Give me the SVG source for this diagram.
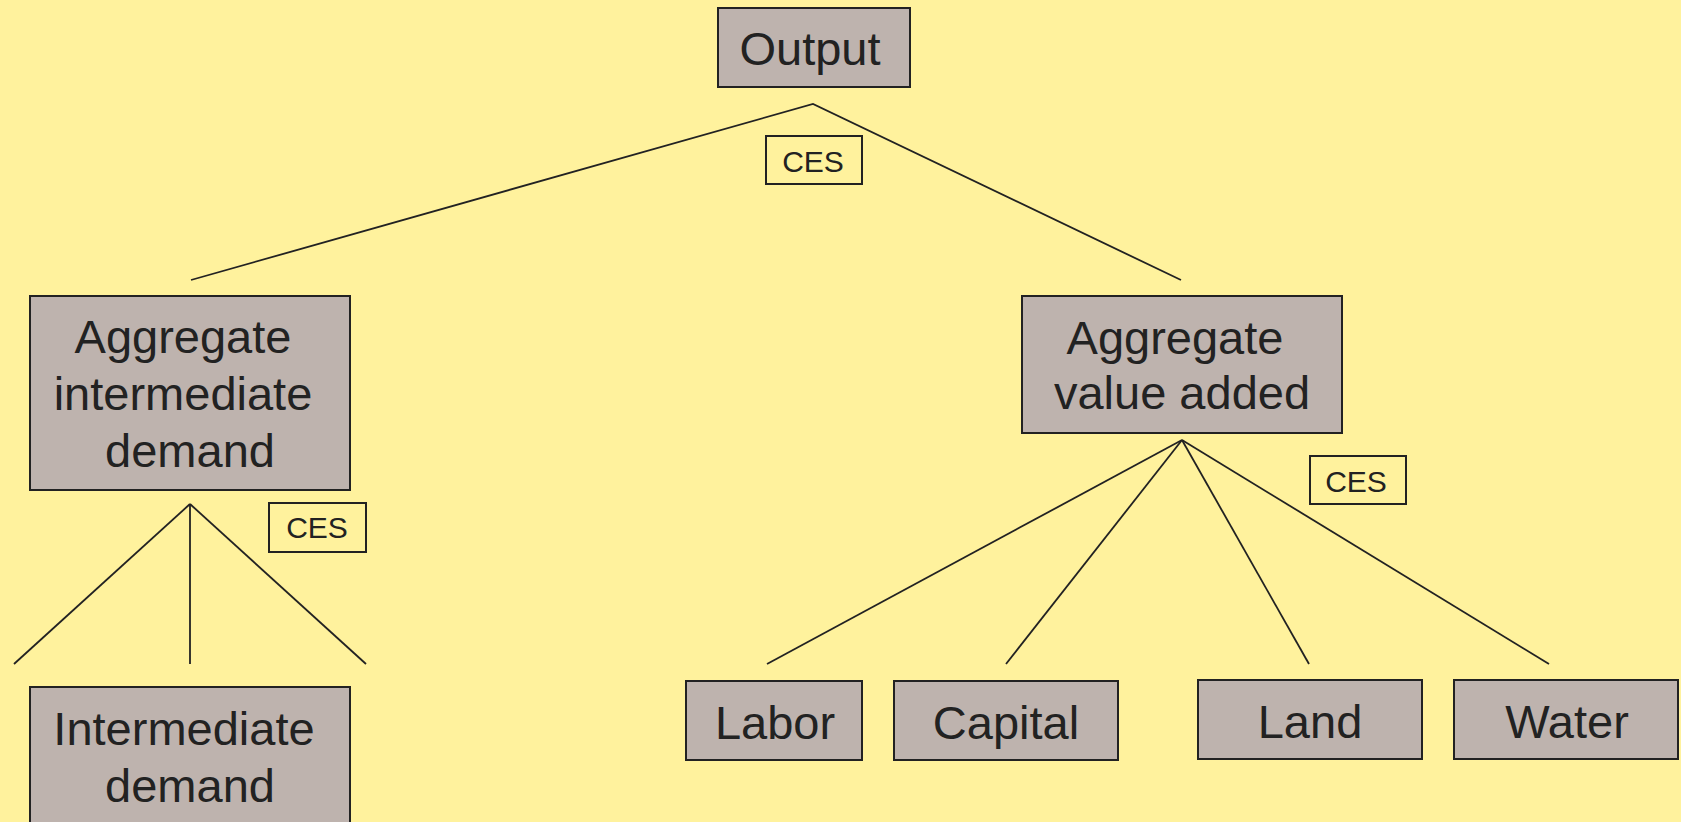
<svg xmlns="http://www.w3.org/2000/svg" width="1681" height="822" viewBox="0 0 1681 822">
<style>
.bg{fill:#FFF29D}
.box{fill:#BEB3AE;stroke:#222;stroke-width:2}
.ces{fill:none;stroke:#222;stroke-width:2}
.t{font-family:"Liberation Sans",Arial,sans-serif;font-size:47px;fill:#222;text-anchor:middle}
.c{font-family:"Liberation Sans",Arial,sans-serif;font-size:30px;fill:#222;text-anchor:middle}
.ln{stroke:#222;stroke-width:1.8;fill:none}
</style>
<rect class="bg" x="0" y="0" width="1681" height="822"/>
<g id="connectors">
<polyline class="ln" points="191,280 813,104 1181,280"/>
<line class="ln" x1="190" y1="504" x2="14" y2="664"/>
<line class="ln" x1="190" y1="504" x2="190" y2="664"/>
<line class="ln" x1="190" y1="504" x2="366" y2="664"/>
<line class="ln" x1="1182" y1="440" x2="767" y2="664"/>
<line class="ln" x1="1182" y1="440" x2="1006" y2="664"/>
<line class="ln" x1="1182" y1="440" x2="1309" y2="664"/>
<line class="ln" x1="1182" y1="440" x2="1549" y2="664"/>
</g>
<g id="output">
<rect class="box" x="718" y="8" width="192" height="79"/>
<text class="t" x="810" y="65">Output</text>
</g>
<g id="ces-top">
<rect class="ces" x="766" y="136" width="96" height="48"/>
<text class="c" x="813" y="172">CES</text>
</g>
<g id="agg-intermediate">
<rect class="box" x="30" y="296" width="320" height="194"/>
<text class="t" x="183" y="353">Aggregate</text>
<text class="t" x="183" y="410">intermediate</text>
<text class="t" x="190" y="467">demand</text>
</g>
<g id="ces-left">
<rect class="ces" x="269" y="503" width="97" height="49"/>
<text class="c" x="317" y="538">CES</text>
</g>
<g id="intermediate">
<rect class="box" x="30" y="687" width="320" height="150"/>
<text class="t" x="184" y="745">Intermediate</text>
<text class="t" x="190" y="802">demand</text>
</g>
<g id="agg-value-added">
<rect class="box" x="1022" y="296" width="320" height="137"/>
<text class="t" x="1175" y="354">Aggregate</text>
<text class="t" x="1182" y="409">value added</text>
</g>
<g id="ces-right">
<rect class="ces" x="1310" y="456" width="96" height="48"/>
<text class="c" x="1356" y="492">CES</text>
</g>
<g id="labor">
<rect class="box" x="686" y="681" width="176" height="79"/>
<text class="t" x="775" y="739">Labor</text>
</g>
<g id="capital">
<rect class="box" x="894" y="681" width="224" height="79"/>
<text class="t" x="1006" y="739">Capital</text>
</g>
<g id="land">
<rect class="box" x="1198" y="680" width="224" height="79"/>
<text class="t" x="1310" y="738">Land</text>
</g>
<g id="water">
<rect class="box" x="1454" y="680" width="224" height="79"/>
<text class="t" x="1567" y="738">Water</text>
</g>
</svg>
